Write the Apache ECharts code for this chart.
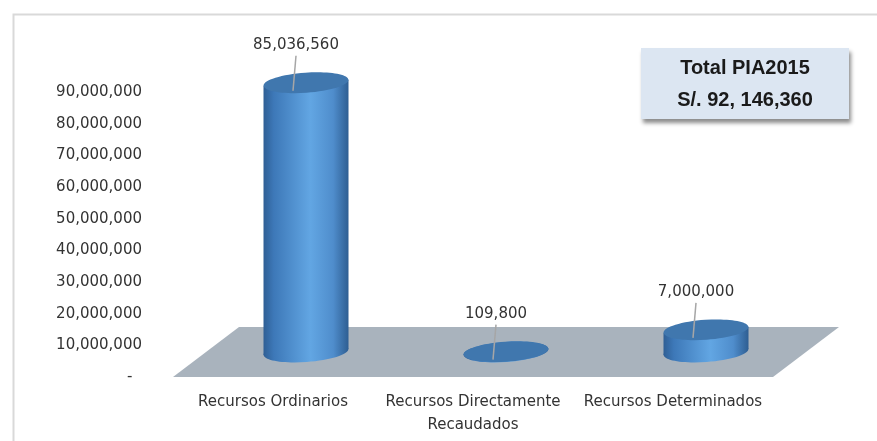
<!DOCTYPE html>
<html>
<head>
<meta charset="utf-8">
<script src="https://cdn.jsdelivr.net/npm/echarts@6/dist/echarts.min.js"></script>
<style>
  html, body { margin: 0; padding: 0; background: #fff; }
  #container { width: 877px; height: 441px; }
</style>
</head>
<body>
<div id="container"></div>
<script>
  // datos del grafico
  const categorias = ['Recursos Ordinarios', 'Recursos Directamente\nRecaudados', 'Recursos Determinados']
  const montos = [85036560, 109800, 7000000]
  const ejeTicks = [0, 10000000, 20000000, 30000000, 40000000, 50000000, 60000000, 70000000, 80000000, 90000000]
  const cajaTitulo = 'Total PIA2015'
  const cajaMonto = 'S/. 92, 146,360'

  const fuente = 'DejaVu Sans'
  const depthX = 33 // desplazamiento de profundidad (3D)
  const depthY = -25
  const tilt = 0.07

  function fmt(v) {
    return v === 0 ? '-  ' : v.toLocaleString('en-US')
  }

  const dom = document.getElementById('container')
  const myChart = echarts.init(dom)

  const bodyGrad = () => new echarts.graphic.LinearGradient(0, 0, 1, 0, [
    { offset: 0, color: '#2f5f95' },
    { offset: 0.12, color: '#3d78b8' },
    { offset: 0.55, color: '#62a6e3' },
    { offset: 0.82, color: '#4f8dcc' },
    { offset: 1, color: '#2e5e92' }
  ])

  myChart.setOption({
    animation: false,
    grid: { left: 173, right: 104, top: 92, bottom: 64 },
    graphic: [
      {
        type: 'rect', left: 11, top: 12, z: -10, silent: true,
        shape: { width: 900, height: 500 },
        style: { fill: 'none', stroke: '#d9d9d9', lineWidth: 2 }
      },
      {
        type: 'group', left: 641, top: 48, z: 100,
        children: [
          { type: 'rect', shape: { width: 208, height: 71 },
            style: { fill: '#dce6f2', shadowBlur: 4, shadowOffsetX: 2, shadowOffsetY: 4, shadowColor: 'rgba(0,0,0,0.45)' } },
          { type: 'text', x: 104, y: 20,
            style: { text: cajaTitulo, font: 'bold 20px "Liberation Sans"', fill: '#1a1a1a', align: 'center', verticalAlign: 'middle' } },
          { type: 'text', x: 104, y: 52,
            style: { text: cajaMonto, font: 'bold 20px "Liberation Sans"', fill: '#1a1a1a', align: 'center', verticalAlign: 'middle' } }
        ]
      }
    ],
    xAxis: {
      type: 'category',
      data: categorias,
      axisLine: { show: false },
      axisTick: { show: false },
      axisLabel: { interval: 0, margin: 14, fontFamily: fuente, fontSize: 15, color: '#333', lineHeight: 23 }
    },
    yAxis: {
      type: 'value',
      min: ejeTicks[0],
      max: ejeTicks[ejeTicks.length - 1],
      interval: ejeTicks[1] - ejeTicks[0],
      splitLine: { show: false },
      axisLine: { show: false },
      axisTick: { show: false },
      axisLabel: { margin: 31, fontFamily: fuente, fontSize: 15, color: '#333', formatter: fmt }
    },
    series: [
      {
        // piso gris
        type: 'custom',
        data: [0],
        z: 1,
        silent: true,
        renderItem: function (params, api) {
          const cs = params.coordSys
          const y0 = api.coord([0, 0])[1]
          const x0 = cs.x, x1 = cs.x + cs.width
          return {
            type: 'polygon',
            shape: { points: [[x0, y0], [x1, y0], [x1 + depthX * 2, y0 + depthY * 2], [x0 + depthX * 2, y0 + depthY * 2]] },
            style: { fill: '#a9b3bd' }
          }
        }
      },
      {
        type: 'custom',
        z: 2,
        data: montos.map((v, i) => [i, v]),
        clip: false,
        renderItem: function (params, api) {
          const i = api.value(0)
          const v = api.value(1)
          const base = api.coord([i, 0])
          const top = api.coord([i, v])
          const rx = api.size([1, 0])[0] * 0.2125
          const ry = 10
          const cx = base[0] + depthX
          const by = base[1] + depthY
          const ty = top[1] + depthY
          const s = rx * Math.sin(tilt)
          return {
            type: 'group',
            children: [
              { type: 'ellipse', shape: { cx: cx, cy: by, rx: rx, ry: ry },
                rotation: tilt, originX: cx, originY: by, style: { fill: bodyGrad() } },
              { type: 'polygon', shape: { points: [[cx - rx, ty + s], [cx + rx, ty - s], [cx + rx, by - s], [cx - rx, by + s]] },
                style: { fill: bodyGrad() } },
              { type: 'ellipse', shape: { cx: cx, cy: ty, rx: rx, ry: ry },
                rotation: tilt, originX: cx, originY: ty, style: { fill: '#4077ae' } },
              { type: 'line', shape: { x1: cx - 10, y1: ty - 27, x2: cx - 13, y2: ty + 8 },
                style: { stroke: '#a6a6a6', lineWidth: 1.5 } },
              { type: 'text', x: cx - 10, y: ty - 38,
                style: { text: fmt(v), font: '15px "' + fuente + '"', fill: '#333', align: 'center', verticalAlign: 'middle' } }
            ]
          }
        }
      }
    ]
  })
</script>
</body>
</html>
